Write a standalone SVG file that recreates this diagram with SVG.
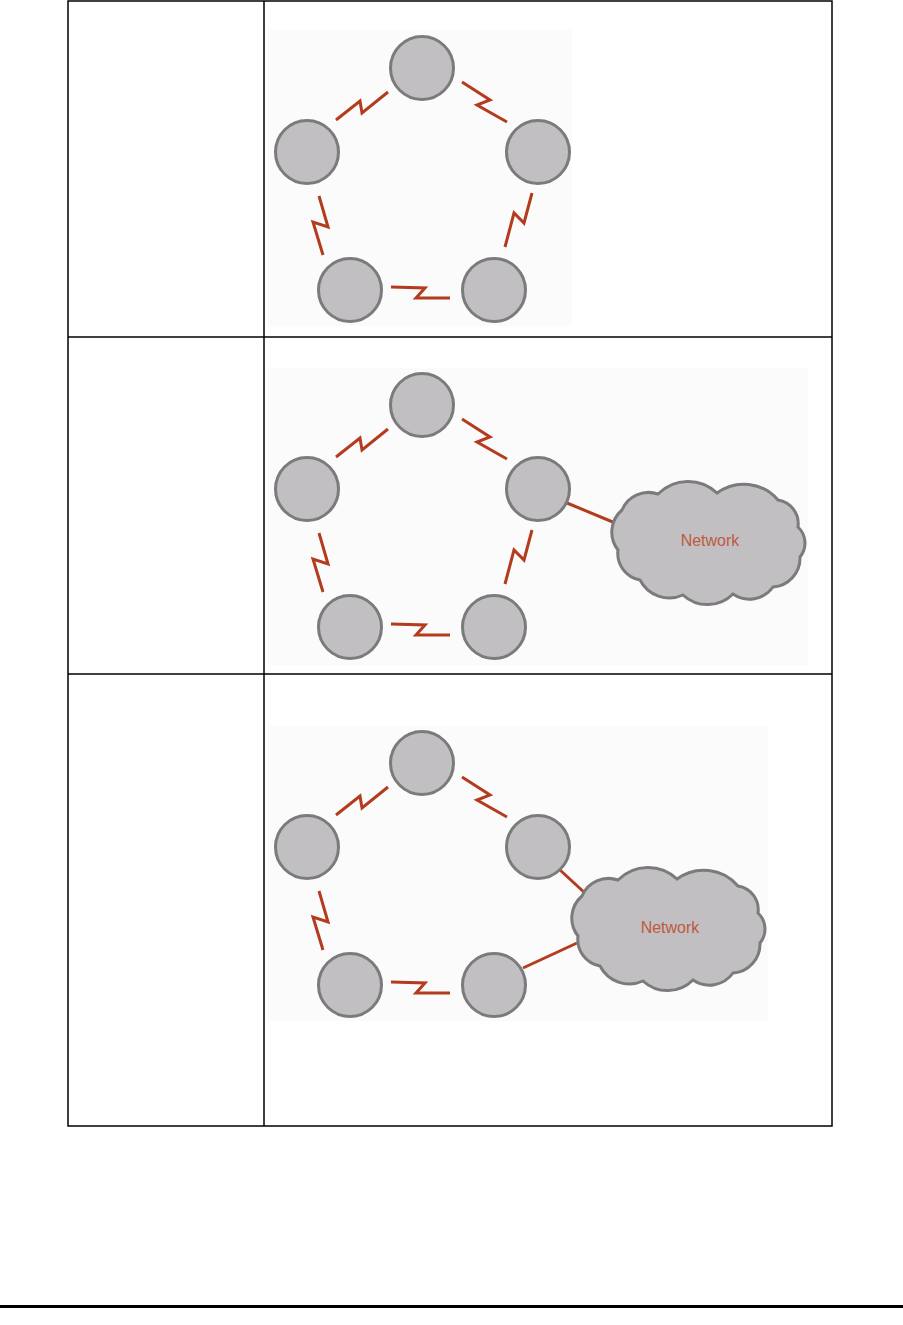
<svg xmlns="http://www.w3.org/2000/svg" width="903" height="1325" viewBox="0 0 903 1325">
<style>
.tbl{stroke:#000;stroke-width:1.5;fill:none}
.bg{fill:#fbfbfb}
.node{fill:#c1bfc2;stroke:#7b7b7b;stroke-width:3}
.zz{fill:none;stroke:#b43c1e;stroke-width:3;stroke-linejoin:miter}
.ln{fill:none;stroke:#b43c1e;stroke-width:3}
.lbl{font-family:"Liberation Sans",Arial,sans-serif;font-size:16px;fill:#bf5a40;text-anchor:middle}
</style>
<defs>
<path id="cloudShape" d="M-88,-32 A29,29 0 0 1 -52,-48 A42,42 0 0 1 7,-49 A45,45 0 0 1 68,-42 A24,24 0 0 1 88,-15 A22,22 0 0 1 90,15 A29,29 0 0 1 63,45 A29,29 0 0 1 23,52 A36,36 0 0 1 -27,53 A33,33 0 0 1 -70,38 A27,27 0 0 1 -92,8 A29,29 0 0 1 -88,-32 Z"/>
</defs>
<rect width="903" height="1325" fill="#fff"/>
<g id="table">
<rect class="bg" x="268" y="30" width="304" height="296"/>
<rect class="bg" x="268" y="368" width="540" height="297"/>
<rect class="bg" x="268" y="726" width="500" height="295"/>
<rect class="tbl" x="68" y="1" width="764" height="1125"/>
<line class="tbl" x1="264" y1="1" x2="264" y2="1126"/>
<line class="tbl" x1="68" y1="337" x2="832" y2="337"/>
<line class="tbl" x1="68" y1="674" x2="832" y2="674"/>
</g>
<g id="connectors">
<g id="row1-links">
<path class="zz" d="M336,120 L360,101 L362,113 L388,92"/>
<path class="zz" d="M462,82 L490,100 L477,105 L507,122"/>
<path class="zz" d="M532,193 L524,223 L514,213 L505,247"/>
<path class="zz" d="M319,196 L328,227 L313,222 L323,255"/>
<path class="zz" d="M391,287 L425,288 L416,298 L450,298"/>
</g>
<g id="row2-links" transform="translate(0,337)">
<path class="zz" d="M336,120 L360,101 L362,113 L388,92"/>
<path class="zz" d="M462,82 L490,100 L477,105 L507,122"/>
<path class="zz" d="M532,193 L524,223 L514,213 L505,247"/>
<path class="zz" d="M319,196 L328,227 L313,222 L323,255"/>
<path class="zz" d="M391,287 L425,288 L416,298 L450,298"/>
</g>
<path class="ln" d="M567,503 L620,525"/>
<g id="row3-links" transform="translate(0,695)">
<path class="zz" d="M336,120 L360,101 L362,113 L388,92"/>
<path class="zz" d="M462,82 L490,100 L477,105 L507,122"/>
<path class="zz" d="M319,196 L328,227 L313,222 L323,255"/>
<path class="zz" d="M391,287 L425,288 L416,298 L450,298"/>
</g>
<path class="ln" d="M560,870 L586,894"/>
<path class="ln" d="M523,968 L577,943"/>
</g>
<g id="r1-top"><circle class="node" cx="422" cy="68" r="31.5"/></g>
<g id="r1-left"><circle class="node" cx="307" cy="152" r="31.5"/></g>
<g id="r1-right"><circle class="node" cx="538" cy="152" r="31.5"/></g>
<g id="r1-bl"><circle class="node" cx="350" cy="290" r="31.5"/></g>
<g id="r1-br"><circle class="node" cx="494" cy="290" r="31.5"/></g>
<g id="r2-top"><circle class="node" cx="422" cy="405" r="31.5"/></g>
<g id="r2-left"><circle class="node" cx="307" cy="489" r="31.5"/></g>
<g id="r2-right"><circle class="node" cx="538" cy="489" r="31.5"/></g>
<g id="r2-bl"><circle class="node" cx="350" cy="627" r="31.5"/></g>
<g id="r2-br"><circle class="node" cx="494" cy="627" r="31.5"/></g>
<g id="r2-cloud"><use href="#cloudShape" class="node" transform="translate(710,542)"/><text class="lbl" x="710" y="546">Network</text></g>
<g id="r3-top"><circle class="node" cx="422" cy="763" r="31.5"/></g>
<g id="r3-left"><circle class="node" cx="307" cy="847" r="31.5"/></g>
<g id="r3-right"><circle class="node" cx="538" cy="847" r="31.5"/></g>
<g id="r3-bl"><circle class="node" cx="350" cy="985" r="31.5"/></g>
<g id="r3-br"><circle class="node" cx="494" cy="985" r="31.5"/></g>
<g id="r3-cloud"><use href="#cloudShape" class="node" transform="translate(670,928)"/><text class="lbl" x="670" y="933">Network</text></g>
<rect x="0" y="1305" width="903" height="3" fill="#000"/>
</svg>
